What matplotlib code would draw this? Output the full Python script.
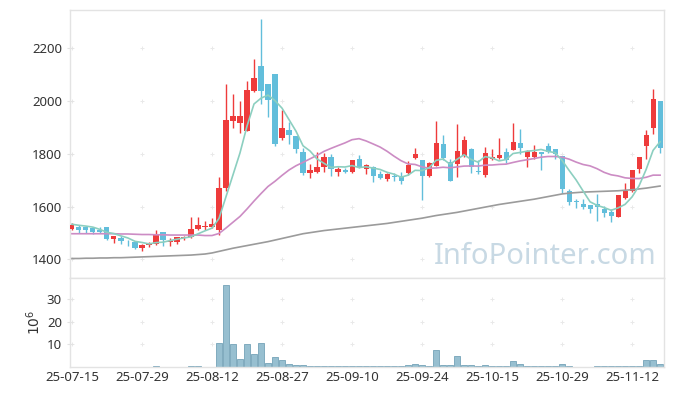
import numpy as np
import pandas as pd
import matplotlib
matplotlib.use('Agg')
import matplotlib.pyplot as plt

# ---- data ----
holidays = ['2025-08-15', '2025-10-03', '2025-10-06', '2025-10-07', '2025-10-08', '2025-10-09']
dates = pd.bdate_range('2025-07-15', '2025-11-18')
dates = dates[~dates.isin(pd.to_datetime(holidays))]

opens = [1515, 1523, 1521, 1517, 1513, 1522, 1478, 1479, 1466, 1466,
         1444, 1454, 1459, 1503, 1466, 1464, 1480, 1483, 1516, 1521,
         1523, 1511, 1669, 1925, 1916, 1886, 2038, 2133, 2065, 2103,
         1861, 1890, 1867, 1806, 1728, 1731, 1749, 1787, 1732, 1738,
         1732, 1779, 1744, 1751, 1722, 1706, 1717, 1716, 1728, 1785,
         1776, 1717, 1755, 1837, 1770, 1761, 1793, 1818, 1735, 1720,
         1780, 1785, 1807, 1814, 1841, 1789, 1789, 1807, 1830, 1818,
         1793, 1659, 1622, 1610, 1606, 1608, 1590, 1579, 1561, 1631,
         1659, 1741, 1831, 1899, 2000]
highs = [1537, 1530, 1528, 1521, 1523, 1524, 1490, 1488, 1473, 1468,
         1458, 1466, 1511, 1505, 1480, 1485, 1489, 1559, 1561, 1545,
         1555, 1711, 2065, 2029, 2000, 2076, 2160, 2312, 2065, 2103,
         1966, 1921, 1867, 1821, 1761, 1808, 1804, 1798, 1751, 1745,
         1777, 1794, 1761, 1754, 1735, 1727, 1726, 1732, 1773, 1821,
         1777, 1770, 1925, 1871, 1779, 1913, 1868, 1823, 1777, 1827,
         1817, 1859, 1821, 1916, 1893, 1814, 1832, 1807, 1840, 1818,
         1793, 1665, 1628, 1627, 1606, 1646, 1602, 1589, 1644, 1688,
         1739, 1788, 1890, 2048, 2000]
lows = [1512, 1498, 1500, 1496, 1500, 1474, 1460, 1459, 1450, 1440,
        1431, 1445, 1456, 1451, 1449, 1458, 1474, 1479, 1511, 1511,
        1517, 1492, 1659, 1897, 1878, 1886, 2035, 1988, 1941, 1829,
        1852, 1839, 1805, 1720, 1707, 1726, 1732, 1716, 1716, 1726,
        1726, 1745, 1723, 1694, 1704, 1697, 1698, 1685, 1720, 1779,
        1625, 1711, 1755, 1776, 1698, 1713, 1789, 1728, 1722, 1711,
        1776, 1780, 1764, 1814, 1800, 1751, 1779, 1739, 1802, 1780,
        1650, 1606, 1596, 1591, 1574, 1545, 1561, 1540, 1561, 1627,
        1654, 1728, 1779, 1874, 1804]
closes = [1532, 1513, 1513, 1504, 1504, 1478, 1488, 1470, 1464, 1441,
          1456, 1461, 1494, 1473, 1470, 1483, 1485, 1515, 1530, 1527,
          1534, 1669, 1928, 1945, 1943, 2042, 2089, 2038, 2004, 1837,
          1900, 1871, 1818, 1728, 1738, 1749, 1787, 1741, 1741, 1733,
          1776, 1749, 1756, 1717, 1707, 1722, 1713, 1698, 1756, 1799,
          1717, 1765, 1840, 1783, 1698, 1811, 1852, 1751, 1731, 1803,
          1787, 1795, 1777, 1845, 1823, 1811, 1807, 1798, 1809, 1798,
          1665, 1618, 1617, 1599, 1592, 1597, 1577, 1565, 1644, 1659,
          1739, 1788, 1871, 2010, 1821]
# volume in millions
volumes = [0.05, 0.05, 0.05, 0.05, 0.05, 0.05, 0.05, 0.05, 0.05, 0.05,
           0.05, 0.05, 0.3, 0.05, 0.05, 0.05, 0.05, 0.6, 0.3, 0.05,
           0.05, 10.8, 36.0, 10.0, 3.7, 10.0, 5.9, 10.8, 1.9, 4.6,
           3.3, 1.5, 1.0, 1.0, 0.6, 0.6, 0.6, 0.6, 0.3, 0.3,
           0.6, 0.6, 0.3, 0.6, 0.3, 0.3, 0.3, 0.3, 1.0, 1.5,
           0.7, 0.3, 7.7, 1.0, 0.7, 5.0, 1.0, 1.0, 0.3, 1.0,
           0.3, 0.6, 0.6, 2.8, 1.5, 0.6, 0.3, 0.6, 0.6, 0.3,
           1.5, 0.6, 0.1, 0.2, 0.1, 0.6, 0.3, 0.3, 0.3, 0.3,
           0.3, 0.6, 3.3, 3.0, 1.5]

# moving-average values before a full window is available on the chart
ma5_lead = [1533, 1529, 1526, 1522]
ma20_lead = [1497, 1497, 1497, 1497, 1497, 1497, 1497, 1496, 1496, 1495,
             1494, 1494, 1493, 1493, 1492, 1492, 1492, 1492, 1492]
# long moving average (grey)
ma_long = [1403, 1403, 1404, 1404, 1405, 1405, 1406, 1406, 1407, 1408, 1409,
           1410, 1411, 1412, 1413, 1414, 1415, 1416, 1418, 1420,
           1424, 1430, 1436, 1442, 1447, 1452, 1457,
           1462, 1467, 1473, 1479, 1485, 1491, 1497,
           1501, 1505, 1509, 1512, 1515, 1518, 1521, 1524, 1527, 1530, 1533, 1536,
           1540, 1544, 1548, 1552, 1556, 1561, 1566,
           1570, 1574, 1578, 1583, 1588,
           1593, 1598, 1603, 1608, 1612, 1616, 1620, 1624, 1628, 1633, 1638, 1643, 1648,
           1651, 1653, 1655, 1656, 1657, 1658,
           1659, 1660, 1662, 1664, 1667, 1670, 1674, 1678]

# ---- derived ----
o = np.array(opens, float)
h = np.array(highs, float)
l = np.array(lows, float)
c = np.array(closes, float)
x = np.arange(len(c))
s = pd.Series(c)
ma5 = s.rolling(5).mean().values
ma5[:4] = ma5_lead
ma20 = s.rolling(20).mean().values
ma20[:19] = ma20_lead

UP = '#ee3b3b'
DOWN = '#62bedb'
FRAME = '#e3e3e3'
CROSS = '#e9e9e9'

plt.rcParams['font.family'] = ['Noto Sans', 'DejaVu Sans']

fig = plt.figure(figsize=(6.73, 3.96), dpi=100)
ax = fig.add_axes([0.1033, 0.298, 0.8827, 0.6767])
axv = fig.add_axes([0.1033, 0.0732, 0.8827, 0.2248], sharex=ax)

up = c >= o
colors = np.where(up, UP, DOWN)
body_lo = np.minimum(o, c)
body_h = np.maximum(np.abs(c - o), 2.5)

ax.vlines(x, l, h, colors=colors, lw=1.0, zorder=2)
ax.bar(x, body_h, bottom=body_lo, width=0.72, color=colors, lw=0, zorder=3)

ax.plot(x, ma_long, color='#9b9b9b', lw=1.2, zorder=4)
ax.plot(x, ma20, color='#cc8cc4', lw=1.2, zorder=4)
ax.plot(x, ma5, color='#8ccfc0', lw=1.2, zorder=4)

ax.text(0.989, 0.025, 'InfoPointer.com', transform=ax.transAxes, ha='right', va='bottom',
        fontsize=21, color='#c2d5e1', alpha=0.9, zorder=1)

axv.bar(x, volumes, width=0.96, color='#97bfd0', edgecolor='#74a3b8', lw=0.6, zorder=2)

xticks = np.arange(0, len(c), 10)
yticks = [1400, 1600, 1800, 2000, 2200]
vticks = [10, 20, 30]

ax.set_xlim(-0.35, 84.5)
ax.set_ylim(1329, 2346)
axv.set_ylim(0, 39.3)

# faint "+" marks at the grid intersections
gx, gy = np.meshgrid(xticks, yticks)
ax.scatter(gx.ravel(), gy.ravel(), marker='+', s=12, color=CROSS, lw=0.7, zorder=0)
gx, gy = np.meshgrid(xticks, vticks)
axv.scatter(gx.ravel(), gy.ravel(), marker='+', s=12, color=CROSS, lw=0.7, zorder=0)

ax.set_yticks(yticks)
axv.set_yticks(vticks)
axv.set_xticks(xticks)
axv.set_xticklabels(dates[xticks].strftime('%y-%m-%d'))
ax.tick_params(axis='x', labelbottom=False, length=0)
for a in (ax, axv):
    a.tick_params(axis='y', direction='inout', length=5, color=FRAME, labelsize=9.5,
                  labelcolor='#333333', pad=3)
    for sp in a.spines.values():
        sp.set_color(FRAME)
        sp.set_linewidth(1.0)
axv.tick_params(axis='x', length=0, labelsize=9.5, labelcolor='#333333', pad=3)
axv.set_ylabel(r'$10^6$', fontsize=10, color='#333333', labelpad=2)

fig.savefig('out.png', dpi=100)
